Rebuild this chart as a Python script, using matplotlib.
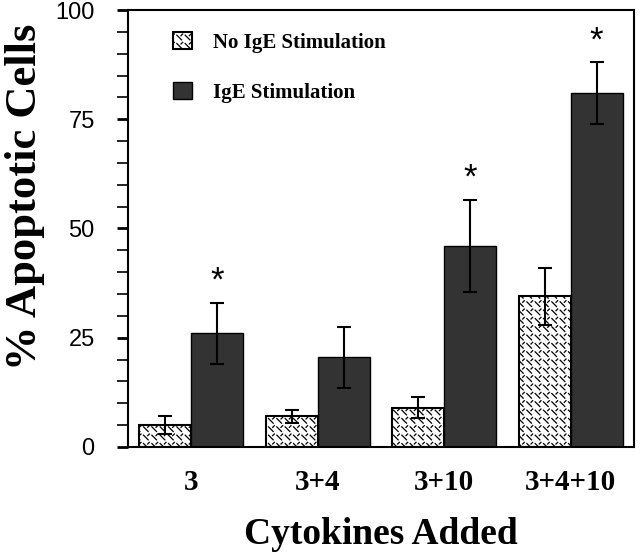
import warnings
import numpy as np
import matplotlib
matplotlib.use('Agg')
import matplotlib.pyplot as plt
import matplotlib.hatch as mhatch
from matplotlib.path import Path

warnings.filterwarnings('ignore')

# data
categories = ['3', '3+4', '3+10', '3+4+10']
no_ige = [5, 7, 9, 34.5]
no_ige_err = [2, 1.5, 2.5, 6.5]
ige = [26, 20.5, 46, 81]
ige_err = [7, 7, 10.5, 7]
significant = [True, False, True, True]

SERIF = ['Liberation Serif', 'DejaVu Serif']
SANS = ['Liberation Sans', 'DejaVu Sans']


class DashHatch(mhatch.HatchPatternBase):
    # short "\" dashes with small "/" ticks, like the printed texture
    def __init__(self, hatch, density):
        self.n = hatch.count('d') * density
        self.num_vertices = self.n * self.n * 4

    def set_vertices_and_codes(self, vertices, codes):
        n = self.n
        g = (np.arange(n) + 0.5) / n
        cx, cy = np.meshgrid(g, g)
        cx, cy = cx.ravel(), cy.ravel()
        a = 0.28 / n
        vertices[0::4, 0] = cx - a
        vertices[0::4, 1] = cy + a
        vertices[1::4, 0] = cx + a
        vertices[1::4, 1] = cy - a
        vertices[2::4, 0] = cx + 0.22 / n
        vertices[2::4, 1] = cy + 0.22 / n
        vertices[3::4, 0] = cx + 0.42 / n
        vertices[3::4, 1] = cy + 0.42 / n
        codes[0::2] = Path.MOVETO
        codes[1::2] = Path.LINETO


mhatch._hatch_types.append(DashHatch)
plt.rc('hatch', linewidth=0.9, color='black')

fig = plt.figure(figsize=(6.4, 5.6), dpi=100)
ax = fig.add_axes([0.2, 0.202, 0.7906, 0.78])

x = np.arange(len(categories))
width = 0.41

ax.bar(x - width / 2, no_ige, width, color='white', edgecolor='black',
       linewidth=1.5, hatch='dd', label='No IgE Stimulation', zorder=2)
ax.bar(x + width / 2, ige, width, color='#333333', edgecolor='black',
       linewidth=1.0, label='IgE Stimulation', zorder=2)
ax.errorbar(x - width / 2, no_ige, yerr=no_ige_err, fmt='none', ecolor='black',
            elinewidth=1.5, capsize=5, capthick=1.5, zorder=3)
ax.errorbar(x + width / 2, ige, yerr=ige_err, fmt='none', ecolor='black',
            elinewidth=1.5, capsize=5, capthick=1.5, zorder=3)

for xi, m, e, s in zip(x, ige, ige_err, significant):
    if s:
        ax.text(xi + width / 2, m + e + 1.2, '*', ha='center', va='bottom',
                fontsize=25, family=SANS)

ax.set_xlim(-0.5, 3.5)
ax.set_ylim(0, 100)
ax.set_yticks([0, 25, 50, 75, 100])
ax.set_yticks(np.arange(0, 101, 5), minor=True)
ax.tick_params(axis='y', which='major', length=8, width=2, direction='out',
               labelsize=17, pad=16)
ax.tick_params(axis='y', which='minor', length=8, width=1.2, direction='out')
ax.tick_params(axis='x', length=0, pad=16)
for lbl in ax.get_yticklabels():
    lbl.set_family(SANS)
ax.set_xticks(x)
ax.set_xticklabels(categories, fontsize=21, fontweight='bold', family=SERIF)
for sp in ax.spines.values():
    sp.set_linewidth(1.5)

ax.set_ylabel('% Apoptotic Cells', fontsize=32, fontweight='bold',
              family=SERIF)
ax.yaxis.set_label_coords(-0.164, 0.572)
ax.set_xlabel('Cytokines Added', fontsize=27, fontweight='bold',
              family=SERIF, labelpad=15)

ax.legend(loc='upper left', bbox_to_anchor=(0.052, 0.993), frameon=False,
          prop={'family': SERIF, 'weight': 'bold', 'size': 15},
          handlelength=0.9, handleheight=0.9, labelspacing=1.4,
          handletextpad=1.0)

fig.savefig('out.png', dpi=100)
